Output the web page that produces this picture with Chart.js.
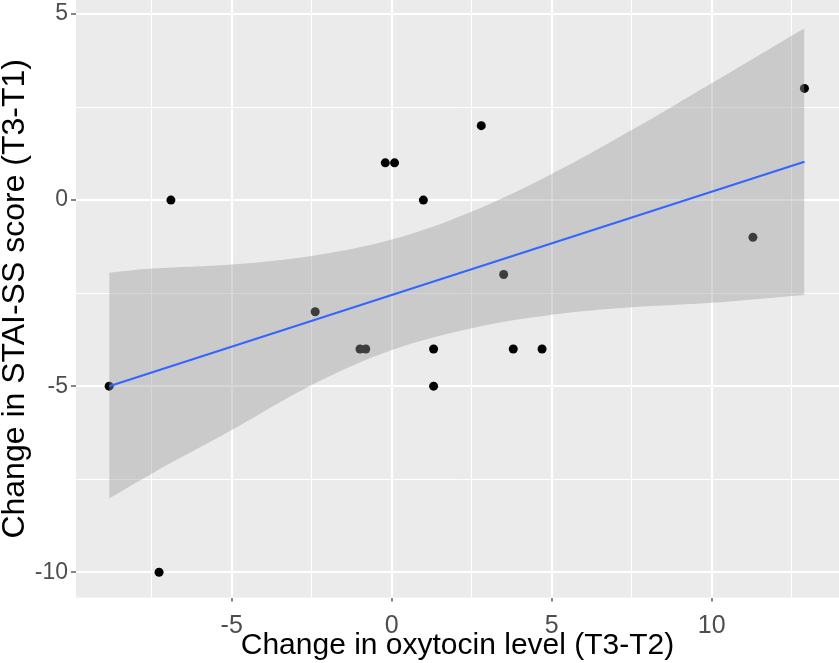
<!DOCTYPE html>
<html>
<head>
<meta charset="utf-8">
<script src="https://cdn.jsdelivr.net/npm/chart.js@4/dist/chart.umd.min.js"></script>
<style>
  html, body { margin: 0; padding: 0; background: #fff; }
  #wrap { width: 839px; height: 663px; position: relative; }
</style>
</head>
<body>
<div id="wrap"><canvas id="plot"></canvas></div>
<script>
// scatter points
var oxyChange = [-8.83, -6.9, -7.27, -2.39, -0.2, 0.09, 0.99, -0.99, -0.81, 1.31, 1.31, 3.8, 4.7, 2.8, 3.5, 11.29, 12.9];
var staiChange = [-5, 0, -10, -3, 1, 1, 0, -4, -4, -4, -5, -4, -4, 2, -2, -1, 3];

// fitted line ends
var fitX = [-8.83, 12.9];
var fitY = [-5.0, 1.03];

// confidence band edges, read at these x positions
var bandX = [-8.83, -7.5, -5, -2.5, 0, 2.5, 5, 7.5, 10, 12.9];
var bandUpper = [-1.95, -1.84, -1.73, -1.5, -1.06, -0.31, 0.7, 1.88, 3.14, 4.62];
var bandLower = [-8.02, -7.35, -6.18, -4.97, -4.03, -3.44, -3.08, -2.88, -2.76, -2.55];

// gridline breaks (major ones carry labels)
var xBreaks = [-7.5, -5, -2.5, 0, 2.5, 5, 7.5, 10, 12.5];
var yBreaks = [-10, -7.5, -5, -2.5, 0, 2.5, 5];

function pairs(xs, ys) {
  return xs.map(function(x, i) { return {x: x, y: ys[i]}; });
}
function isMajor(v) { return Math.abs(v % 5) < 1e-9; }

var panelBg = {
  id: 'panelBg',
  beforeDraw: function(chart) {
    var a = chart.chartArea, c = chart.ctx;
    c.save();
    c.fillStyle = '#EBEBEB';
    c.fillRect(a.left, a.top, a.right - a.left, a.bottom - a.top);
    c.restore();
  }
};

var FAMILY = 'Liberation Sans, Arial, sans-serif';

function gridOpts(len) {
  return {
    color: '#FFFFFF',
    lineWidth: function(ctx) { return isMajor(ctx.tick.value) ? 2 : 1; },
    tickColor: function(ctx) { return isMajor(ctx.tick.value) ? '#333333' : 'rgba(0,0,0,0)'; },
    tickWidth: 1.2,
    tickLength: len
  };
}

var ctx = document.getElementById('plot');
var chart = new Chart(ctx, {
  type: 'scatter',
  data: {
    datasets: [{
      label: 'fit',
      type: 'line',
      data: pairs(fitX, fitY),
      borderColor: '#3366FF',
      borderWidth: 2,
      pointRadius: 0,
      fill: false,
      order: 1
    }, {
      label: 'upper',
      type: 'line',
      data: pairs(bandX, bandUpper),
      borderWidth: 0,
      borderColor: 'rgba(0,0,0,0)',
      backgroundColor: 'rgba(153,153,153,0.4)',
      pointRadius: 0,
      tension: 0.35,
      fill: 2,
      order: 2
    }, {
      label: 'lower',
      type: 'line',
      data: pairs(bandX, bandLower),
      borderWidth: 0,
      borderColor: 'rgba(0,0,0,0)',
      pointRadius: 0,
      tension: 0.35,
      fill: false,
      order: 2
    }, {
      label: 'points',
      data: pairs(oxyChange, staiChange),
      backgroundColor: '#000000',
      borderWidth: 0,
      pointRadius: 4.5,
      order: 3
    }]
  },
  options: {
    responsive: true,
    maintainAspectRatio: false,
    animation: false,
    layout: {padding: 0, autoPadding: false},
    plugins: {
      legend: {display: false},
      tooltip: {enabled: false}
    },
    scales: {
      x: {
        type: 'linear',
        min: -9.866,
        max: 13.98,
        grid: gridOpts(4),
        border: {display: false},
        afterBuildTicks: function(s) { s.ticks = xBreaks.map(function(v) { return {value: v}; }); },
        afterFit: function(s) { s.height = 65.4; s.paddingLeft = 0; s.paddingRight = 0; },
        ticks: {
          autoSkip: false,
          maxRotation: 0,
          padding: 10,
          color: '#4D4D4D',
          font: {family: FAMILY, size: 25},
          callback: function(v) { return isMajor(v) ? String(v) : ''; }
        },
        title: {
          display: true,
          text: 'Change in oxytocin level (T3-T2)',
          color: '#000000',
          font: {family: FAMILY, size: 30, lineHeight: 1.1},
          padding: {top: 0, bottom: 1}
        }
      },
      y: {
        type: 'linear',
        min: -10.68,
        max: 5.376,
        grid: gridOpts(5),
        border: {display: false},
        afterBuildTicks: function(s) { s.ticks = yBreaks.map(function(v) { return {value: v}; }); },
        afterFit: function(s) { s.width = 76; s.paddingTop = 0; s.paddingBottom = 0; },
        ticks: {
          autoSkip: false,
          padding: 3,
          color: '#4D4D4D',
          font: {family: FAMILY, size: 23},
          callback: function(v) { return isMajor(v) ? String(v) : ''; }
        },
        title: {
          display: true,
          text: 'Change in STAI-SS score (T3-T1)',
          color: '#000000',
          font: {family: FAMILY, size: 32, lineHeight: 0.95},
          padding: 0
        }
      }
    }
  },
  plugins: [panelBg]
});
</script>
</body>
</html>
